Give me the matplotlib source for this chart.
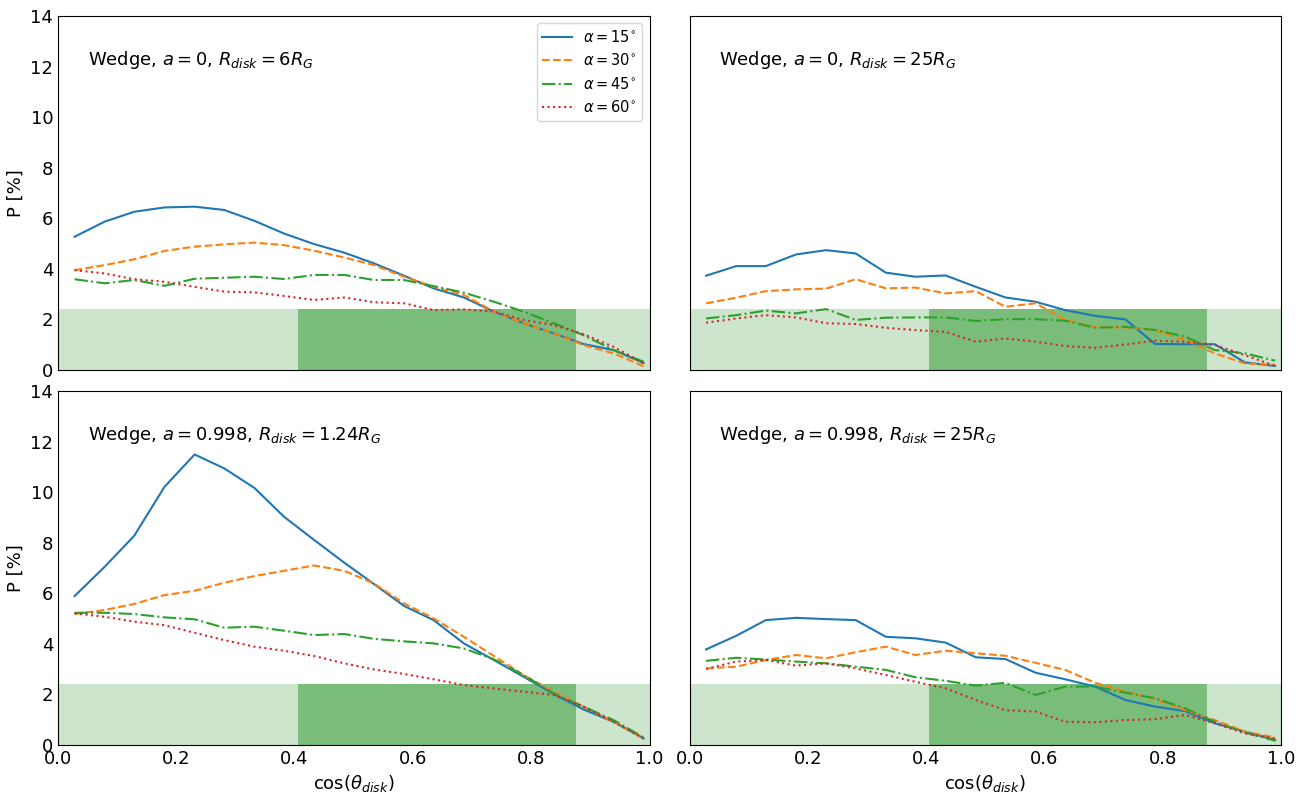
import numpy as np
import matplotlib
matplotlib.use("Agg")
import matplotlib.pyplot as plt

# cos(theta_disk) bin centres
cos_theta = [0.028, 0.079, 0.129, 0.180, 0.231, 0.281, 0.332, 0.382, 0.433, 0.484,
             0.534, 0.585, 0.635, 0.686, 0.737, 0.787, 0.838, 0.888, 0.939, 0.990]

# Panel 1: a=0, R_disk=6R_G
p1_a15 = [5.27, 5.87, 6.26, 6.43, 6.46, 6.33, 5.90, 5.40, 4.98, 4.64,
          4.22, 3.73, 3.23, 2.87, 2.31, 1.85, 1.45, 1.03, 0.79, 0.28]
p1_a30 = [3.95, 4.15, 4.38, 4.71, 4.88, 4.97, 5.04, 4.94, 4.72, 4.45,
          4.15, 3.69, 3.29, 2.97, 2.31, 1.85, 1.45, 0.99, 0.66, 0.15]
p1_a45 = [3.59, 3.43, 3.56, 3.33, 3.61, 3.65, 3.69, 3.60, 3.76, 3.76,
          3.56, 3.56, 3.32, 3.06, 2.70, 2.31, 1.85, 1.38, 0.79, 0.33]
p1_a60 = [3.95, 3.82, 3.59, 3.49, 3.29, 3.10, 3.07, 2.93, 2.77, 2.87,
          2.68, 2.64, 2.37, 2.40, 2.31, 1.98, 1.78, 1.42, 0.92, 0.26]

# Panel 2: a=0, R_disk=25R_G
p2_a15 = [3.73, 4.11, 4.11, 4.57, 4.74, 4.61, 3.85, 3.69, 3.74, 3.29,
          2.87, 2.70, 2.37, 2.14, 2.00, 1.03, 1.02, 1.02, 0.30, 0.16]
p2_a30 = [2.64, 2.86, 3.12, 3.19, 3.22, 3.59, 3.23, 3.26, 3.03, 3.12,
          2.50, 2.64, 2.00, 1.69, 1.69, 1.58, 1.19, 0.66, 0.26, 0.20]
p2_a45 = [2.04, 2.17, 2.35, 2.24, 2.41, 1.98, 2.07, 2.08, 2.08, 1.94,
          2.01, 2.01, 1.95, 1.67, 1.71, 1.58, 1.32, 0.79, 0.66, 0.37]
p2_a60 = [1.87, 2.04, 2.17, 2.08, 1.85, 1.82, 1.67, 1.58, 1.51, 1.12,
          1.25, 1.12, 0.95, 0.88, 1.01, 1.16, 1.12, 0.99, 0.59, 0.16]

# Panel 3: a=0.998, R_disk=1.24R_G
p3_a15 = [5.89, 7.05, 8.28, 10.21, 11.49, 10.94, 10.17, 9.03, 8.11, 7.21,
          6.37, 5.50, 4.94, 4.02, 3.36, 2.70, 2.02, 1.41, 0.92, 0.26]
p3_a30 = [5.18, 5.34, 5.58, 5.93, 6.10, 6.42, 6.68, 6.89, 7.10, 6.89,
          6.39, 5.60, 5.01, 4.28, 3.52, 2.77, 2.11, 1.52, 0.92, 0.26]
p3_a45 = [5.23, 5.23, 5.18, 5.05, 4.97, 4.64, 4.68, 4.52, 4.35, 4.39,
          4.20, 4.10, 4.02, 3.82, 3.39, 2.77, 2.04, 1.52, 0.99, 0.30]
p3_a60 = [5.21, 5.07, 4.88, 4.74, 4.44, 4.15, 3.89, 3.73, 3.52, 3.23,
          2.99, 2.81, 2.60, 2.37, 2.24, 2.11, 1.98, 1.52, 0.92, 0.26]

# Panel 4: a=0.998, R_disk=25R_G
p4_a15 = [3.78, 4.32, 4.94, 5.03, 4.98, 4.94, 4.28, 4.22, 4.05, 3.47,
          3.40, 2.86, 2.60, 2.31, 1.78, 1.52, 1.34, 0.86, 0.53, 0.20]
p4_a30 = [3.03, 3.10, 3.36, 3.56, 3.43, 3.67, 3.89, 3.56, 3.73, 3.63,
          3.53, 3.25, 2.97, 2.46, 2.11, 1.81, 1.38, 0.99, 0.53, 0.30]
p4_a45 = [3.33, 3.45, 3.38, 3.30, 3.23, 3.10, 2.97, 2.68, 2.54, 2.35,
          2.46, 1.98, 2.31, 2.31, 2.07, 1.85, 1.45, 0.92, 0.49, 0.17]
p4_a60 = [3.01, 3.30, 3.36, 3.14, 3.23, 3.03, 2.77, 2.50, 2.24, 1.78,
          1.38, 1.32, 0.92, 0.90, 0.99, 1.02, 1.19, 0.86, 0.46, 0.26]

panels = [
    ([p1_a15, p1_a30, p1_a45, p1_a60], r"Wedge, $a=0$, $R_{disk}=6R_G$"),
    ([p2_a15, p2_a30, p2_a45, p2_a60], r"Wedge, $a=0$, $R_{disk}=25R_G$"),
    ([p3_a15, p3_a30, p3_a45, p3_a60], r"Wedge, $a=0.998$, $R_{disk}=1.24R_G$"),
    ([p4_a15, p4_a30, p4_a45, p4_a60], r"Wedge, $a=0.998$, $R_{disk}=25R_G$"),
]
alphas = [15, 30, 45, 60]
styles = [('C0', '-'), ('C1', '--'), ('C2', '-.'), ('C3', ':')]

# observed polarization band / inclination range
p_obs_max = 2.4
cos_lo, cos_hi = 0.405, 0.875

fig, axes = plt.subplots(2, 2, figsize=(13.12, 7.93), dpi=100, sharex=True, sharey=True)
fig.subplots_adjust(left=0.0442, right=0.9764, top=0.9798, bottom=0.0605,
                    wspace=0.0676, hspace=0.0593)

for ax, (series, label) in zip(axes.flat, panels):
    ax.fill_between([0, 1], 0, p_obs_max, color='green', alpha=0.2, lw=0)
    ax.fill_between([cos_lo, cos_hi], 0, p_obs_max, color='green', alpha=0.4, lw=0)
    for vals, a, (c, ls) in zip(series, alphas, styles):
        ax.plot(cos_theta, vals, color=c, ls=ls, lw=1.5, label=r'$\alpha=%d^{\circ}$' % a)
    ax.text(0.05, 0.876, label, transform=ax.transAxes, fontsize=13, va='center')
    ax.set_xlim(0, 1)
    ax.set_ylim(0, 14)
    ax.tick_params(length=0, labelsize=13)

axes[0, 0].legend(loc='upper right', fontsize=10.5)
for ax in axes[:, 0]:
    ax.set_ylabel('P [%]', fontsize=13)
for ax in axes[1, :]:
    ax.set_xlabel(r'$\cos(\theta_{disk})$', fontsize=13)

fig.savefig('out.png', dpi=100)
